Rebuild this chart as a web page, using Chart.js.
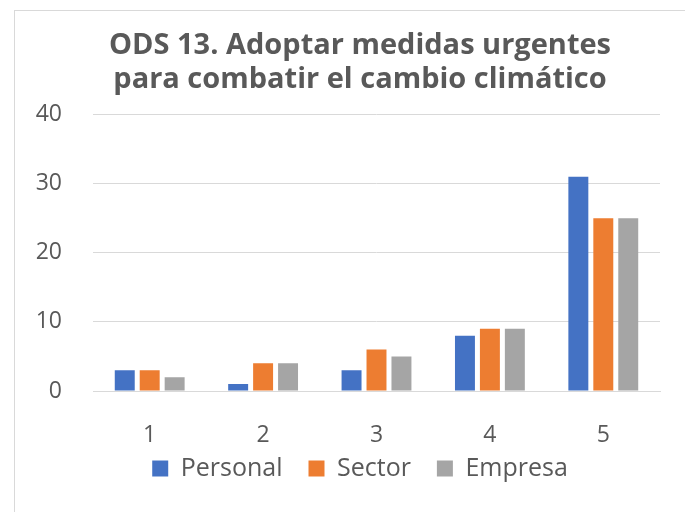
<!DOCTYPE html>
<html><head><meta charset="utf-8">
<script src="https://cdn.jsdelivr.net/npm/chart.js@4"></script>
<style>
html,body{margin:0;padding:0;background:#fff;overflow:hidden;}
#wrap{position:absolute;left:0;top:0;width:685px;height:512px;overflow:hidden;}
#frame{position:absolute;left:14px;top:10px;width:700px;height:520px;border:1px solid #d9d9d9;box-sizing:border-box;}
canvas{position:absolute;left:0;top:0;}
</style></head>
<body>
<div id="wrap"><div id="frame"></div><canvas id="c" width="720" height="512"></canvas></div>
<script>
const categories = ['1','2','3','4','5'];
const personal = [3,1,3,8,31];
const sector = [3,4,6,9,25];
const empresa = [2,4,5,9,25];
const yTicks = [0,10,20,30,40];
const titleLines = ['ODS 13. Adoptar medidas urgentes','para combatir el cambio climático'];

const txt = '#595959';
const fontFam = "'Open Sans', 'Liberation Sans', sans-serif";

// nudges the legend box up so it sits closer to the category labels
const legendNudge = {
  id: 'legendNudge',
  afterLayout(chart) {
    const lg = chart.legend;
    if (lg) { lg.top -= 21; lg.bottom -= 21; }
  }
};

new Chart(document.getElementById('c'), {
  type: 'bar',
  data: {
    labels: categories,
    datasets: [
      {label:'Personal', data: personal, backgroundColor:'#4472C4'},
      {label:'Sector', data: sector, backgroundColor:'#ED7D31'},
      {label:'Empresa', data: empresa, backgroundColor:'#A5A5A5'}
    ]
  },
  plugins: [legendNudge],
  options: {
    responsive:false, animation:false,
    layout:{padding:{left:20,right:20,top:0,bottom:0}},
    datasets:{bar:{categoryPercentage:0.66,barPercentage:0.8}},
    plugins:{
      title:{display:true,text:titleLines,color:txt,font:{family:fontFam,size:29,weight:'bold',lineHeight:1.2},padding:{top:28,bottom:17}},
      legend:{position:'bottom',labels:{color:txt,font:{family:fontFam,size:25},boxWidth:16,boxHeight:16,padding:26}},
      tooltip:{enabled:false}
    },
    scales:{
      x:{grid:{display:false,drawTicks:false},border:{display:true,color:'#d9d9d9',width:1},
         afterFit:(s)=>{s.height=60;},
         ticks:{color:txt,font:{family:fontFam,size:23},padding:31}},
      y:{min:0,max:40,afterBuildTicks:(s)=>{s.ticks=yTicks.map(v=>({value:v}));},
         afterFit:(s)=>{s.width=73;},
         grid:{color:'#d9d9d9',drawTicks:false},border:{display:false},
         ticks:{color:txt,font:{family:fontFam,size:23},padding:31}},
      y2:{position:'right',display:true,afterFit:(s)=>{s.width=40;},
         grid:{display:false,drawTicks:false},border:{display:false},ticks:{display:false}}
    }
  }
});
</script>
</body></html>
